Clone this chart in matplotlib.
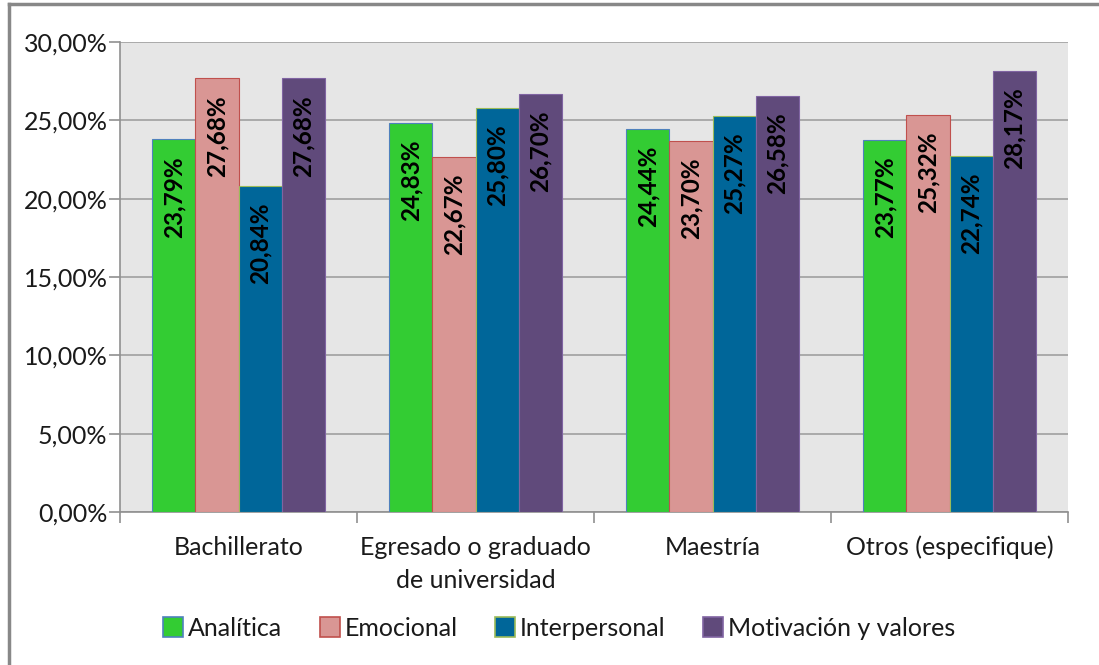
import numpy as np
import matplotlib.pyplot as plt
from matplotlib.lines import Line2D
from matplotlib.ticker import FuncFormatter

plt.rcParams['font.family'] = ['Lato', 'DejaVu Sans']

# data
categories = ["Bachillerato", "Egresado o graduado\nde universidad", "Maestría", "Otros (especifique)"]
series = ["Analítica", "Emocional", "Interpersonal", "Motivación y valores"]
analitica = [23.79, 24.83, 24.44, 23.77]
emocional = [27.68, 22.67, 23.70, 25.32]
interpersonal = [20.84, 25.80, 25.27, 22.74]
motivacion = [27.68, 26.70, 26.58, 28.17]

values = [analitica, emocional, interpersonal, motivacion]
colors = ["#33CC33", "#D99694", "#006699", "#604A7B"]
edges = ["#4F81BD", "#C0504D", "#9BBB59", "#8064A2"]

fig = plt.figure(figsize=(10.99, 6.65), dpi=100)
ax = fig.add_axes([120 / 1099, 1 - 512 / 665, (1068 - 120) / 1099, (512 - 42) / 665])
ax.set_facecolor("#E6E6E6")

x = np.arange(len(categories))
w = 1 / 5.5
for i, (vals, c, e) in enumerate(zip(values, colors, edges)):
    pos = x + (i - 1.5) * w
    bars = ax.bar(pos, vals, w, color=c, edgecolor=e, linewidth=0.8, label=series[i], zorder=3)
    for b, v in zip(bars, vals):
        ax.annotate(f"{v:.2f}%".replace(".", ","), (b.get_x() + b.get_width() / 2, v),
                    xytext=(0, -12), textcoords="offset points", rotation=90,
                    ha="center", va="top", fontsize=17.5, fontweight="bold",
                    color="black", zorder=4)

ax.set_xlim(-0.5, 3.5)
ax.set_ylim(0, 30)
ax.set_yticks(np.arange(0, 31, 5))
ax.yaxis.set_major_formatter(FuncFormatter(lambda v, p: f"{v:.2f}%".replace(".", ",")))
ax.yaxis.grid(True, color="#A0A0A0", linewidth=1.2, zorder=0)
ax.set_axisbelow(True)

ax.set_xticks(np.arange(-0.5, 4, 1))
ax.set_xticklabels([])
ax.set_xticks(x, minor=True)
ax.set_xticklabels(categories, minor=True, fontsize=18, color="#1A1A1A", linespacing=1.55)
ax.tick_params(axis="x", which="minor", length=0, pad=17)
ax.tick_params(axis="x", which="major", length=8, color="#909090", width=1.2)
ax.tick_params(axis="y", length=8, color="#909090", width=1.2, labelsize=18, labelcolor="#1A1A1A", pad=1)

for s in ["top", "right"]:
    ax.spines[s].set_visible(False)
for s in ["left", "bottom"]:
    ax.spines[s].set_color("#909090")
    ax.spines[s].set_linewidth(1.2)

handles = [Line2D([], [], marker="s", linestyle="none", markersize=14,
                  markerfacecolor=c, markeredgecolor=e, markeredgewidth=1.2)
           for c, e in zip(colors, edges)]
fig.legend(handles, series, loc="center", bbox_to_anchor=(558 / 1099, 1 - 628 / 665),
           ncol=4, frameon=False, fontsize=18, handletextpad=0.1, columnspacing=1.4,
           handlelength=1.0, labelcolor="#1A1A1A")

# outer chart border (left and top edge visible)
fig.add_artist(Line2D([9 / 1099, 9 / 1099], [0, 1 - 4 / 665], transform=fig.transFigure, color="#888888", lw=2.5))
fig.add_artist(Line2D([9 / 1099, 1], [1 - 4 / 665, 1 - 4 / 665], transform=fig.transFigure, color="#888888", lw=2.5))

fig.savefig("out.png", dpi=100)
